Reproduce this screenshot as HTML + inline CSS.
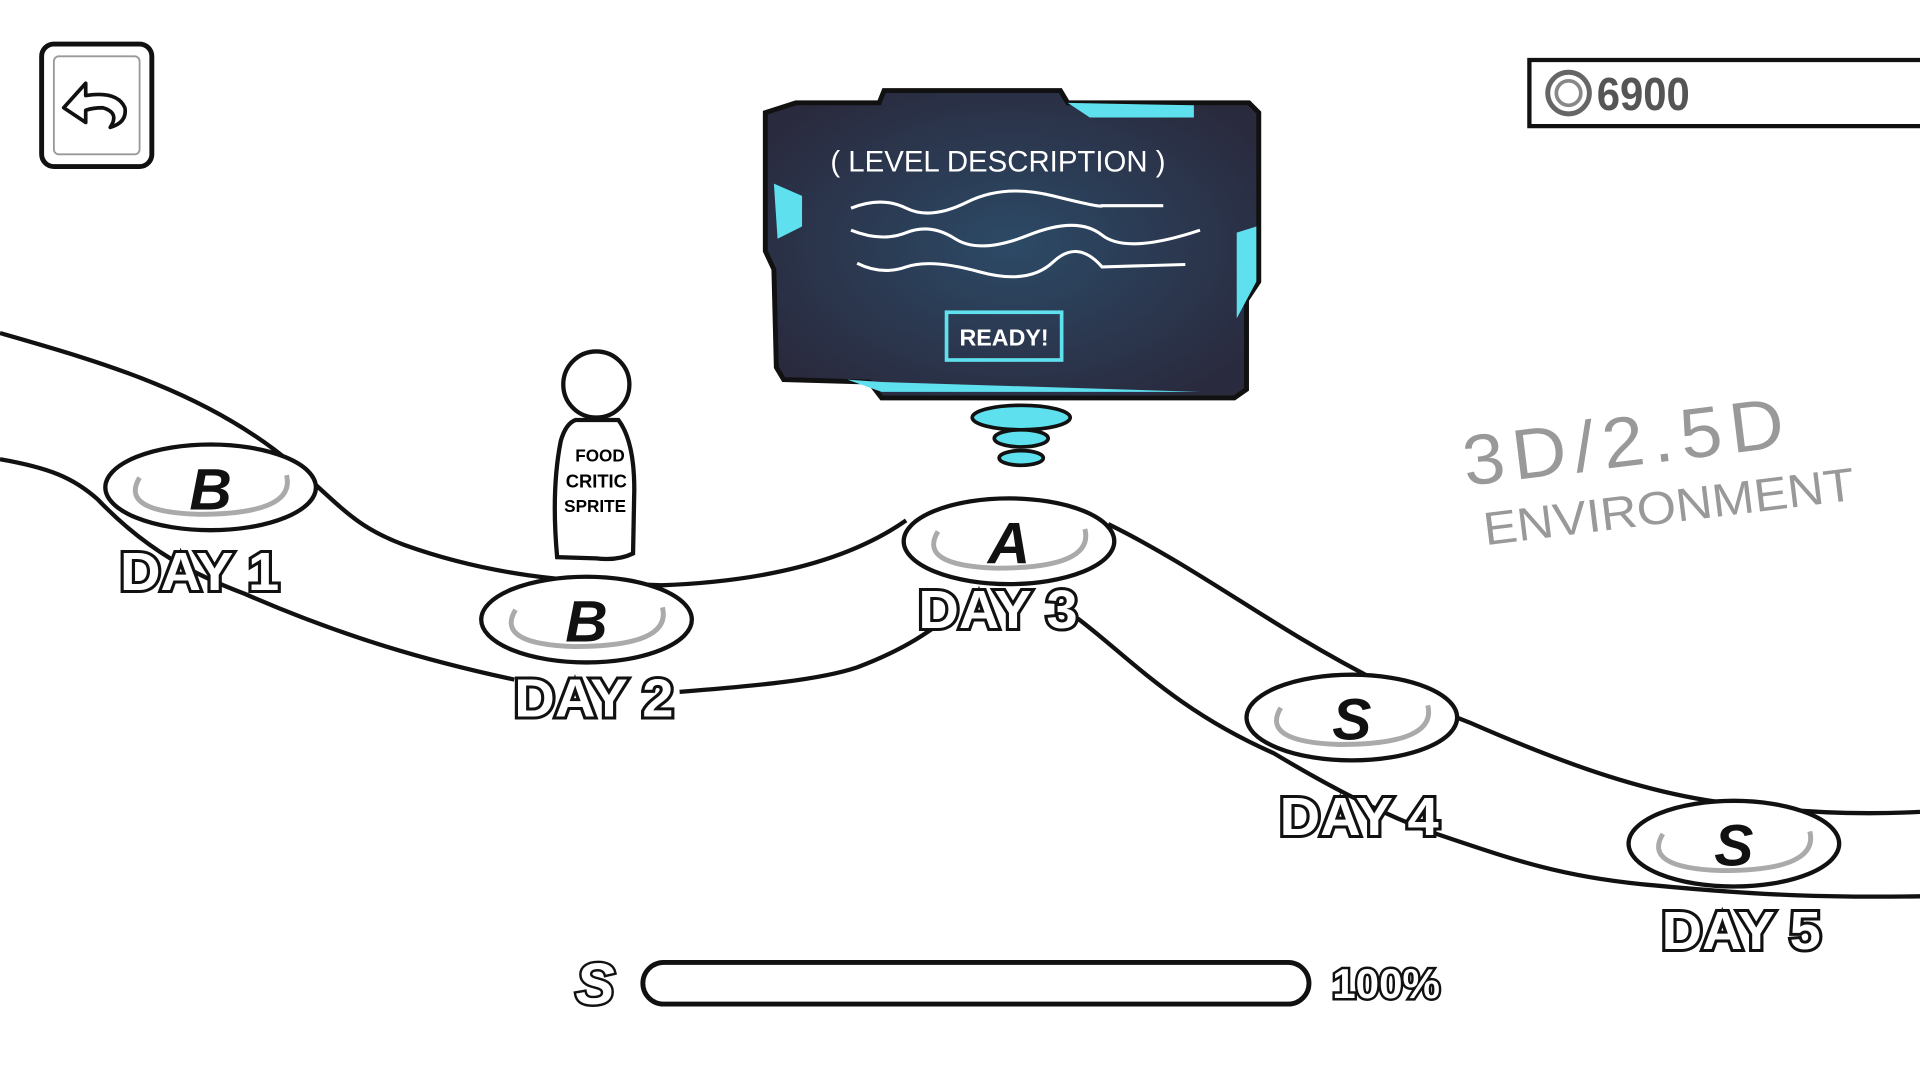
<!DOCTYPE html>
<html><head><meta charset="utf-8"><style>
html,body{margin:0;padding:0;background:#fff;width:1920px;height:1080px;overflow:hidden}
svg{display:block}
text{font-family:"Liberation Sans",sans-serif}
</style></head><body>
<svg id="s" width="1920" height="1080" viewBox="0 0 1568 882" preserveAspectRatio="none" xmlns="http://www.w3.org/2000/svg">
<defs><radialGradient id="g" cx="50%" cy="50%" r="60%"><stop offset="0" stop-color="#2c4a66"/><stop offset="1" stop-color="#2a2a3e"/></radialGradient></defs>
<g>
<rect x="34" y="36" width="90" height="100" rx="10" fill="#fff" stroke="#111" stroke-width="4"/>
<rect x="44" y="46" width="70" height="80" rx="4" fill="none" stroke="#999" stroke-width="1.5"/>
<path d="M52 88 L70 68 L70 78 Q96 74 102 88 Q104 100 90 104 Q98 92 84 88 Q76 88 70 90 L70 100 Z" fill="#fff" stroke="#111" stroke-width="3" stroke-linejoin="round"/>
</g>
<g>
<path d="M1249 49 L1580 49 L1580 103 L1249 103 Z" fill="#fff" stroke="#111" stroke-width="3.5"/>
<circle cx="1281" cy="76" r="17" fill="none" stroke="#666" stroke-width="4"/>
<circle cx="1281" cy="76" r="10" fill="none" stroke="#888" stroke-width="3"/>
<text x="1304" y="90" font-size="38" font-weight="bold" fill="#555" textLength="76" lengthAdjust="spacingAndGlyphs">6900</text>
</g>
<path d="M0 272 C80 295 170 320 240 380 C280 415 290 430 330 445 C400 470 460 475 540 478 C620 475 690 460 740 425 M905 428 C960 455 1010 490 1060 520 C1110 550 1160 575 1200 590 C1280 625 1350 650 1420 657 C1480 665 1530 665 1568 663" fill="none" stroke="#111" stroke-width="3.5"/>
<path d="M0 375 C40 382 60 390 80 408 C120 450 160 470 200 485 C280 520 350 540 420 555 M555 565 C620 560 670 555 700 545 C740 530 760 515 780 500 M880 505 C920 535 960 580 1040 615 C1090 645 1130 665 1170 680 C1230 700 1270 715 1340 722 C1440 732 1500 733 1568 732" fill="none" stroke="#111" stroke-width="3.5"/>
<g>
<circle cx="487" cy="314" r="27" fill="#fff" stroke="#111" stroke-width="3.5"/>
<path d="M470 343 L505 343 Q518 360 518 400 L517 452 Q505 458 487 456 L455 455 Q450 400 458 360 Q462 346 470 343 Z" fill="#fff" stroke="#111" stroke-width="3.5"/>
<text x="490" y="377" font-size="14" font-weight="bold" text-anchor="middle">FOOD</text>
<text x="487" y="398" font-size="15" font-weight="bold" text-anchor="middle">CRITIC</text>
<text x="486" y="418" font-size="14" font-weight="bold" text-anchor="middle">SPRITE</text>
</g>
<g id="nodes"></g>
<g>
<path d="M650 84 L718 84 L722 74 L866 74 L872 84 L1020 84 L1028 92 L1028 230 L1018 245 L1018 318 L1008 325 L720 325 L710 312 L640 310 L634 300 L632 220 L625 205 L625 92 Z" fill="url(#g)" stroke="#111" stroke-width="4"/>
<path d="M872 84 L890 96 L975 96 L975 86 Z M632 150 L655 160 L655 185 L635 195 Z M1010 190 L1026 185 L1026 230 L1010 260 Z M692 310 L720 320 L980 320 L720 312 Z" fill="#5ee0ee"/>
<text x="815" y="140" font-size="24" fill="#fff" text-anchor="middle">( LEVEL  DESCRIPTION )</text>
<path d="M695 170 Q720 160 740 170 T790 165 T860 160 T900 168 L950 168 M695 188 Q720 198 740 190 T780 195 T840 192 T900 192 T980 188 M700 215 Q720 225 740 218 T800 222 T860 214 T900 218 L968 216" fill="none" stroke="#fff" stroke-width="2.5"/>
<g>
<rect x="773" y="255" width="94" height="39" fill="none" stroke="#5ee0ee" stroke-width="3"/>
<text x="820" y="282" font-size="19" font-weight="bold" fill="#fff" text-anchor="middle">READY!</text>
</g>
</g>
<g fill="none" stroke="#111" stroke-width="3">
<ellipse cx="834" cy="341" rx="40" ry="10" fill="#5ee0ee"/>
<ellipse cx="834" cy="358" rx="22" ry="7" fill="#5ee0ee"/>
<ellipse cx="834" cy="374" rx="18" ry="6" fill="#5ee0ee"/>
</g>
<g fill="#999" transform="rotate(-7 1350 370)">
<text x="1195" y="378" font-size="58" letter-spacing="6" textLength="270" lengthAdjust="spacingAndGlyphs">3D/2.5D</text>
<text x="1205" y="428" font-size="38" textLength="305" lengthAdjust="spacingAndGlyphs">ENVIRONMENT</text>
</g>
<g>
<text x="486" y="820" font-size="48" font-weight="bold" fill="#fff" stroke="#111" stroke-width="4" paint-order="stroke" text-anchor="middle" font-style="italic">S</text>
<rect x="525" y="786" width="544" height="34" rx="17" fill="#fff" stroke="#111" stroke-width="4"/>
<text x="1132" y="815" font-size="34" font-weight="bold" fill="#fff" stroke="#111" stroke-width="4" paint-order="stroke" text-anchor="middle" textLength="88" lengthAdjust="spacingAndGlyphs">100%</text>
</g>
</svg>
<script>
const dayLabels=["DAY 1","DAY 2","DAY 3","DAY 4","DAY 5"];
const grades=["B","B","A","S","S"];
const nodeX=[172,479,824,1104,1416];
const nodeY=[398,506,442,586,689];
const labelX=[163,485,815,1110,1422];
const labelY=[482,585,513,682,775];
const NS="http://www.w3.org/2000/svg";
const g=document.getElementById('nodes');
function mk(t,a){const e=document.createElementNS(NS,t);for(const k in a)e.setAttribute(k,a[k]);return e;}
for(let i=0;i<grades.length;i++){
 const n=mk('g',{});
 
 
 const cx=nodeX[i],cy=nodeY[i];
 n.appendChild(mk('ellipse',{cx:cx,cy:cy,rx:86,ry:35,fill:'#fff',stroke:'#111','stroke-width':3.5}));
 n.appendChild(mk('path',{d:`M${cx-58} ${cy-8} Q${cx-75} ${cy+20} ${cx-10} ${cy+22} Q${cx+70} ${cy+22} ${cx+62} ${cy-10}`,fill:'none',stroke:'#aaa','stroke-width':4}));
 const t=mk('text',{x:cx,y:cy+18,'font-size':48,'font-weight':'bold','text-anchor':'middle','font-style':'italic',fill:'#111'});
 t.textContent=grades[i];n.appendChild(t);
 const l=mk('text',{x:labelX[i],y:labelY[i],'font-size':44,'font-weight':'bold','text-anchor':'middle',fill:'#fff',stroke:'#111','stroke-width':5,'paint-order':'stroke',textLength:130,lengthAdjust:'spacingAndGlyphs'});
 l.textContent=dayLabels[i];n.appendChild(l);
 g.appendChild(n);
}
</script>
</body></html>
